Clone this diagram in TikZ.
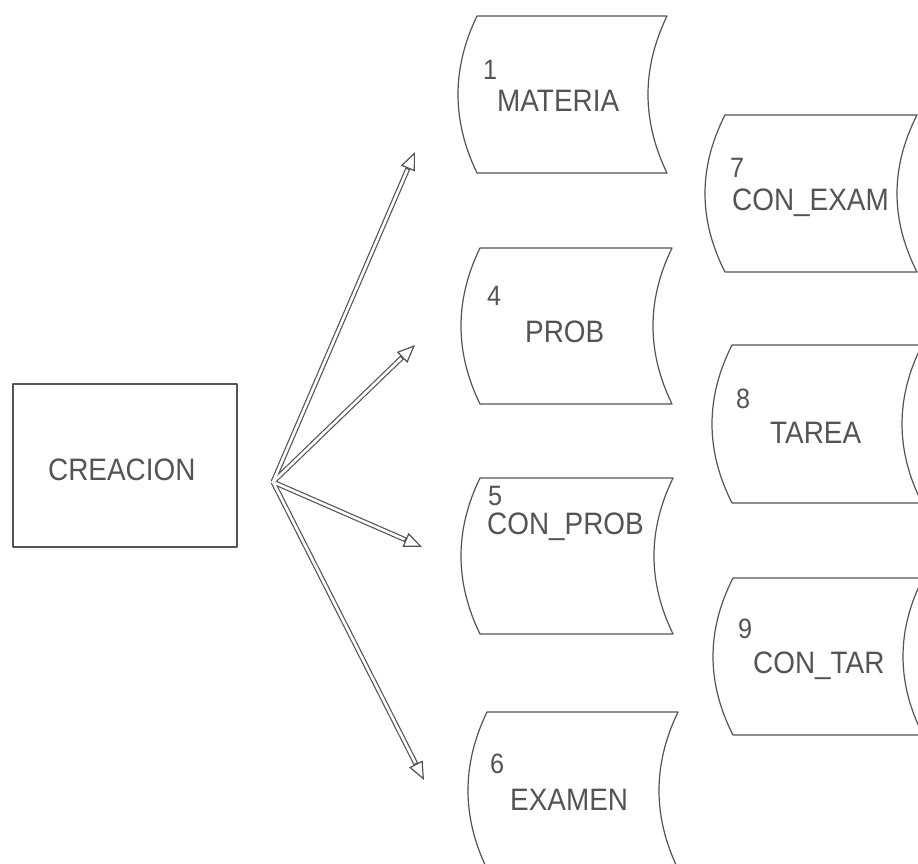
\documentclass[tikz,border=0pt]{standalone}
\usepackage{fontspec}
\newfontfamily\plotfont[FakeStretch=0.9]{Liberation Sans}
\usetikzlibrary{arrows.meta}
\definecolor{ink}{gray}{0.33}
\newcommand\sdbox[5]{% xl xr yt yb bulge
  \draw[boxline] (#1,#3) -- (#2,#3)
    .. controls ({#2-4/3*#5},{#3+(#4-#3)/3}) and ({#2-4/3*#5},{#3+2*(#4-#3)/3}) .. (#2,#4)
    -- (#1,#4)
    .. controls ({#1-4/3*#5},{#3+2*(#4-#3)/3}) and ({#1-4/3*#5},{#3+(#4-#3)/3}) .. (#1,#3)
    -- cycle;}
\tikzset{
  boxline/.style={draw=ink, line width=1.2pt, line join=round},
  lbl/.style={font=\plotfont\fontsize{31}{31}\selectfont, text=ink, inner sep=0pt, anchor=base west},
  num/.style={font=\plotfont\fontsize{28}{28}\selectfont, text=ink, inner sep=0pt, anchor=base west},
  shaftout/.style={draw=ink, line width=5pt, -{Triangle[open, line width=1.2pt, length=18pt, width=15pt]}},
  shaftin/.style={draw=white, line width=2.6pt, shorten >=19pt},
}
\begin{document}
\begin{tikzpicture}[x=1pt, y=-1pt]
\useasboundingbox (0,0) rectangle (918,864);
\clip (0,0) rectangle (918,864);
\fill[white] (0,0) rectangle (918,864);

% process box
\draw[boxline] (13,384) rectangle (237,547);
\node[lbl] (creacion) at (48,480) {CREACION};

% data stores, column 1
\sdbox{477}{667}{16}{173}{19}
\node[num] (n1) at (483,80) {1};
\node[lbl] (materia) at (497,112) {MATERIA};

\sdbox{480}{672}{248}{404}{19}
\node[num] (n4) at (487,305) {4};
\node[lbl] (prob) at (525,342) {PROB};

\sdbox{480}{673}{478}{634}{19}
\node[num] (n5) at (488,505) {5};
\node[lbl] (conprob) at (487,534) {CON\_PROB};

\sdbox{487}{678}{712}{869}{19}
\node[num] (n6) at (490,773) {6};
\node[lbl] (examen) at (510,810) {EXAMEN};

% data stores, column 2
\sdbox{725}{917}{115}{272}{20}
\node[num] (n7) at (730,177) {7};
\node[lbl] (conexam) at (732,210) {CON\_EXAM};

\sdbox{732}{922}{345}{503}{20}
\node[num] (n8) at (736,408) {8};
\node[lbl] (tarea) at (770,443) {TAREA};

\sdbox{733}{923}{578}{735}{20}
\node[num] (n9) at (738,638) {9};
\node[lbl] (contar) at (753,673) {CON\_TAR};

% arrows
\coordinate (hub) at (273,482);
\coordinate (t1) at (415,152);
\coordinate (t2) at (415,345);
\coordinate (t3) at (422,547);
\coordinate (t4) at (424,780);
\foreach \t in {t1,t2,t3,t4} \draw[shaftout] (hub) -- (\t);
\foreach \t in {t1,t2,t3,t4} \draw[shaftin] (hub) -- (\t);
\end{tikzpicture}
\end{document}
